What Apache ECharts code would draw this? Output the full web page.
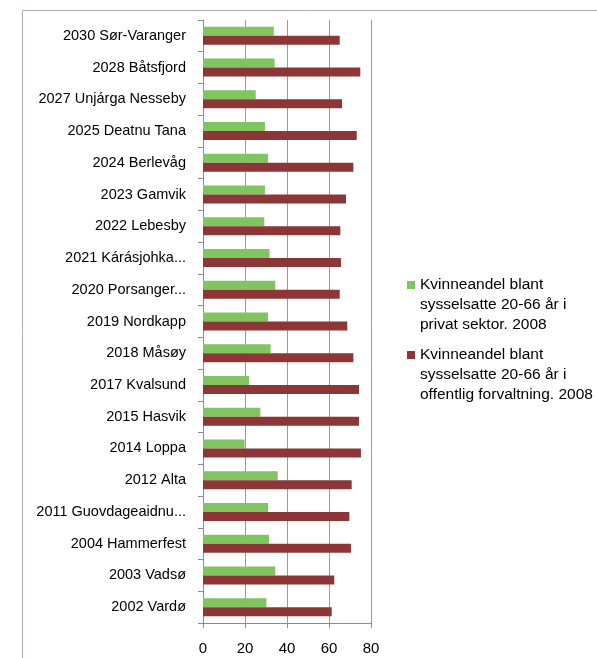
<!DOCTYPE html>
<html>
<head>
<meta charset="utf-8">
<script src="https://cdn.jsdelivr.net/npm/echarts@6/dist/echarts.min.js"></script>
<style>html,body{margin:0;padding:0;background:#fff}#c{width:597px;height:658px}</style>
</head>
<body>
<div id="c"></div>
<script>
// categories listed bottom to top
var categories = [
  '2002 Vardø', '2003 Vadsø', '2004 Hammerfest', '2011 Guovdageaidnu...', '2012 Alta',
  '2014 Loppa', '2015 Hasvik', '2017 Kvalsund', '2018 Måsøy', '2019 Nordkapp',
  '2020 Porsanger...', '2021 Kárásjohka...', '2022 Lebesby', '2023 Gamvik', '2024 Berlevåg',
  '2025 Deatnu Tana', '2027 Unjárga Nesseby', '2028 Båtsfjord', '2030 Sør-Varanger'
];
var privat = [30.2, 34.4, 31.4, 31.0, 35.6, 19.8, 27.3, 21.9, 32.2, 31.0, 34.4, 31.7, 29.2, 29.5, 31.0, 29.5, 25.1, 34.1, 33.7];
var offentlig = [61.3, 62.5, 70.5, 69.7, 70.8, 75.2, 74.3, 74.3, 71.6, 68.7, 65.1, 65.7, 65.4, 68.1, 71.6, 73.2, 66.2, 74.9, 65.1];
var xTicks = [0, 20, 40, 60, 80];
var name1 = 'Kvinneandel blant sysselsatte 20-66 år i privat sektor. 2008';
var name2 = 'Kvinneandel blant sysselsatte 20-66 år i offentlig forvaltning. 2008';
var legendLines = {};
legendLines[name1] = ['Kvinneandel blant', 'sysselsatte 20-66 år i', 'privat sektor. 2008'];
legendLines[name2] = ['Kvinneandel blant', 'sysselsatte 20-66 år i', 'offentlig forvaltning. 2008'];

var FONT = 'Liberation Sans';
var chart = echarts.init(document.getElementById('c'), null, {renderer: 'canvas'});
function legendCfg(name, top) {
  return {
    data: [name],
    left: 407, top: top, padding: 0,
    itemWidth: 8, itemHeight: 8, itemGap: 0,
    icon: 'rect',
    formatter: function (n) { return ' \n \n' + legendLines[n].join('\n'); },
    textStyle: {fontFamily: FONT, fontSize: 15.5, color: '#000', lineHeight: 20}
  };
}
chart.setOption({
  animation: false,
  textStyle: {fontFamily: FONT},
  graphic: [
    {type: 'line', shape: {x1: 22.5, y1: 10.5, x2: 597, y2: 10.5}, style: {stroke: '#b9aaa3', lineWidth: 1}},
    {type: 'line', shape: {x1: 22.5, y1: 10.5, x2: 22.5, y2: 658}, style: {stroke: '#b9aaa3', lineWidth: 1}}
  ],
  legend: [legendCfg(name1, 235), legendCfg(name2, 305)],
  grid: {left: 203, right: 226, top: 20, bottom: 35, containLabel: false},
  xAxis: {
    type: 'value', min: xTicks[0], max: xTicks[xTicks.length - 1], interval: 20,
    axisLine: {show: true, lineStyle: {color: '#8c8c8c'}},
    axisTick: {show: true, length: 5, lineStyle: {color: '#8c8c8c'}},
    splitLine: {show: true, lineStyle: {color: '#9a9a9a', width: 1}},
    axisLabel: {fontFamily: FONT, fontSize: 15, color: '#000', margin: 18}
  },
  yAxis: {
    type: 'category', data: categories,
    axisLine: {show: true, lineStyle: {color: '#8c8c8c'}},
    axisTick: {show: true, length: 5, lineStyle: {color: '#8c8c8c'}},
    axisLabel: {fontFamily: FONT, fontSize: 14.5, color: '#000', margin: 17, interval: 0}
  },
  series: [
    {name: name1, type: 'bar', data: privat, barWidth: 9, barGap: '0%',
     itemStyle: {color: '#80c55f'}},
    {name: name2, type: 'bar', data: offentlig, barWidth: 9, barGap: '0%',
     itemStyle: {color: '#8c3638'}}
  ]
});
</script>
</body>
</html>
